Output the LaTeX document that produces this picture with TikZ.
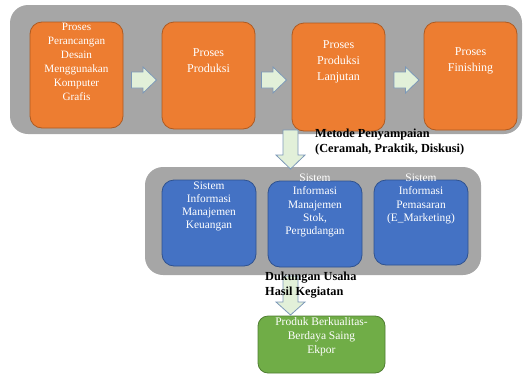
\documentclass[tikz,border=0pt]{standalone}
\usepackage{fontspec}
\setmainfont{Liberation Serif}
\definecolor{panelgray}{RGB}{166,166,166}
\definecolor{orangefill}{RGB}{237,125,49}
\definecolor{orangedraw}{RGB}{174,90,33}
\definecolor{bluefill}{RGB}{68,114,196}
\definecolor{bluedraw}{RGB}{47,82,143}
\definecolor{greenfill}{RGB}{112,173,71}
\definecolor{greendraw}{RGB}{80,126,50}
\definecolor{arrowfill}{RGB}{226,240,217}
\definecolor{arrowdraw}{RGB}{124,152,184}
\newcommand\myrarrow[2]{\draw[blockarrow] (#1,#2-8) -- ++(11.5,0) -- ++(0,-5) -- ++(13.5,13) -- ++(-13.5,13) -- ++(0,-5) -- ++(-11.5,0) -- cycle;}
\newcommand\mydarrow[4]{\draw[blockarrow] (#1-7.5,#2) -- (#1+7.5,#2) -- (#1+7.5,#3) -- (#1+14.5,#3) -- (#1,#4) -- (#1-14.5,#3) -- (#1-7.5,#3) -- cycle;}
\begin{document}
\begin{tikzpicture}[x=1pt,y=-1pt,
  panel/.style={fill=panelgray, rounded corners=18pt},
  obox/.style={draw=orangedraw, fill=orangefill, line width=0.8pt, rounded corners=12pt, minimum width=93pt, inner sep=0pt},
  bbox/.style={draw=bluedraw, fill=bluefill, line width=0.8pt, rounded corners=12pt, minimum width=94pt, inner sep=0pt},
  gbox/.style={draw=greendraw, fill=greenfill, line width=0.8pt, rounded corners=10pt, minimum width=127pt, minimum height=57pt, inner sep=0pt},
  otxt/.style={text=white, align=center, inner sep=0pt, font=\fontsize{12}{16}\selectfont},
  otxtsmall/.style={text=white, align=center, inner sep=0pt, font=\fontsize{11.2}{14}\selectfont},
  btxt/.style={text=white, align=center, inner sep=0pt, font=\fontsize{11.4}{13.3}\selectfont},
  lbl/.style={text=black, align=left, inner sep=0pt, anchor=west, font=\bfseries\fontsize{12.3}{15}\selectfont},
  blockarrow/.style={draw=arrowdraw, fill=arrowfill, line width=0.8pt, line join=miter}
]
\useasboundingbox (0,0) rectangle (524,375);
% panels
\fill[panel] (10,5) rectangle (522,134);
\fill[panel] (145,167) rectangle (481,275);
% orange boxes
\node[obox, minimum height=106pt] (o1) at (76.5,75) {};
\node[obox, minimum height=107pt] (o2) at (208.5,75.5) {};
\node[obox, minimum height=108pt] (o3) at (338.5,77) {};
\node[obox, minimum height=108pt] (o4) at (470.5,76) {};
\node[otxtsmall] (t1) at (76.5,61.5) {Proses\\Perancangan\\Desain\\Menggunakan\\Komputer\\Grafis};
\node[otxt] (t2) at (208.5,60.5) {Proses\\Produksi};
\node[otxt] (t3) at (338.5,62) {Proses\\Produksi\\Lanjutan};
\node[otxt] (t4) at (470.5,60.5) {Proses\\Finishing};
% right arrows
\myrarrow{131.5}{80}
\myrarrow{261.5}{80}
\myrarrow{394}{80}
% blue boxes
\node[bbox, minimum height=86pt] (b1) at (209,223) {};
\node[bbox, minimum height=86pt] (b2) at (315,224) {};
\node[bbox, minimum height=85pt] (b3) at (421,222.5) {};
\node[btxt] (s1) at (209,206.5) {Sistem\\Informasi\\Manajemen\\Keuangan};
\node[btxt] (s2) at (315,205.5) {Sistem\\Informasi\\Manajemen\\Stok,\\Pergudangan};
\node[btxt] (s3) at (421,199) {Sistem\\Informasi\\Pemasaran\\(E\_Marketing)};
% green box
\node[gbox] (g) at (321.5,344.5) {};
\node[otxtsmall, font=\fontsize{11.5}{14}\selectfont] (gt) at (321.5,337) {Produk Berkualitas-\\Berdaya Saing\\Ekpor};
% down arrows
\mydarrow{290.5}{130}{155}{169}
\mydarrow{290.5}{276}{302}{315}
% labels
\node[lbl] (l1) at (315,142.5) {Metode Penyampaian\\(Ceramah, Praktik, Diskusi)};
\node[lbl] (l2) at (265,285.5) {Dukungan Usaha\\Hasil Kegiatan};
\end{tikzpicture}
\end{document}
